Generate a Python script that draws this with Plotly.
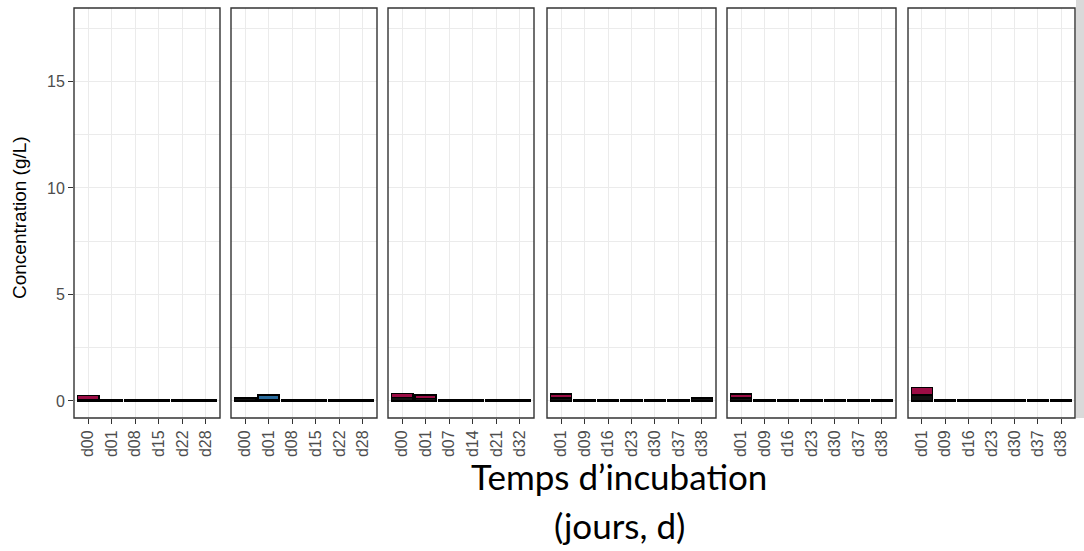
import plotly.graph_objects as go

# ---- data ----
days_p1 = ["d00", "d01", "d08", "d15", "d22", "d28"]
days_p2 = ["d00", "d01", "d08", "d15", "d22", "d28"]
days_p3 = ["d00", "d01", "d07", "d14", "d21", "d32"]
days_p4 = ["d01", "d09", "d16", "d23", "d30", "d37", "d38"]
days_p5 = ["d01", "d09", "d16", "d23", "d30", "d37", "d38"]
days_p6 = ["d01", "d09", "d16", "d23", "d30", "d37", "d38"]

black_p1 = [0.05, 0.05, 0.05, 0.05, 0.05, 0.05]
red_p1 = [0.2, None, None, None, None, None]
blue_p1 = [None] * 6

black_p2 = [0.13, 0.06, 0.05, 0.05, 0.05, 0.05]
red_p2 = [None] * 6
blue_p2 = [None, 0.22, None, None, None, None]

black_p3 = [0.16, 0.11, 0.05, 0.05, 0.05, 0.05]
red_p3 = [0.19, 0.17, None, None, None, None]
blue_p3 = [None] * 6

black_p4 = [0.14, 0.05, 0.05, 0.05, 0.05, 0.05, 0.14]
red_p4 = [0.18, None, None, None, None, None, None]
blue_p4 = [None] * 7

black_p5 = [0.14, 0.05, 0.05, 0.05, 0.05, 0.05, 0.05]
red_p5 = [0.18, None, None, None, None, None, None]
blue_p5 = [None] * 7

black_p6 = [0.27, 0.05, 0.05, 0.05, 0.05, 0.05, 0.05]
red_p6 = [0.36, None, None, None, None, None, None]
blue_p6 = [None] * 7

y_ticks = [0, 5, 10, 15]

panels = [
    (days_p1, black_p1, red_p1, blue_p1),
    (days_p2, black_p2, red_p2, blue_p2),
    (days_p3, black_p3, red_p3, blue_p3),
    (days_p4, black_p4, red_p4, blue_p4),
    (days_p5, black_p5, red_p5, blue_p5),
    (days_p6, black_p6, red_p6, blue_p6),
]

# ---- layout geometry (pixels) ----
W, H = 1084, 551
panel_px = [(74, 220), (231, 377), (388, 534), (547, 716), (727, 896), (908, 1075)]
top_px, bot_px = 8, 418
y_dom = [(H - bot_px) / H, (H - top_px) / H]

RED = "#9B0D45"
BLUE = "#2B6D9E"
BLACK = "#111111"
GRID = "#EBEBEB"
TICKC = "#4D4D4D"

fig = go.Figure()
layout = dict(
    width=W, height=H,
    margin=dict(l=0, r=0, t=0, b=0),
    paper_bgcolor="white", plot_bgcolor="white",
    barmode="stack", bargap=0.1, showlegend=False,
    font=dict(family="Liberation Sans, Arial, sans-serif"),
)

for i, (days, blk, red, blu) in enumerate(panels):
    n = i + 1
    xa = "x" if n == 1 else f"x{n}"
    ya = "y" if n == 1 else f"y{n}"
    for vals, col in ((blk, BLACK), (red, RED), (blu, BLUE)):
        fig.add_trace(go.Bar(
            x=days, y=vals, xaxis=xa, yaxis=ya, width=0.9,
            marker=dict(color=col, line=dict(color="black", width=1.6)),
            hoverinfo="x+y",
        ))
    x0, x1 = panel_px[i]
    layout["xaxis" if n == 1 else f"xaxis{n}"] = dict(
        domain=[x0 / W, x1 / W], anchor=ya, type="category",
        categoryorder="array", categoryarray=days,
        range=[-0.6, len(days) - 0.4],
        showgrid=True, gridcolor=GRID, gridwidth=1.1,
        ticks="outside", ticklen=5, tickcolor="#333333", tickwidth=1.1,
        tickangle=-90, tickfont=dict(size=16, color=TICKC),
        showline=False, zeroline=False, fixedrange=True,
    )
    layout["yaxis" if n == 1 else f"yaxis{n}"] = dict(
        domain=y_dom, anchor=xa, range=[-0.8, 18.45],
        tickmode="array", tickvals=y_ticks, ticktext=[str(v) for v in y_ticks],
        showgrid=True, gridcolor=GRID, gridwidth=1.1,
        minor=dict(tickmode="array", tickvals=[2.5, 7.5, 12.5, 17.5],
                   showgrid=True, gridcolor=GRID, gridwidth=0.6, ticks=""),
        ticks="outside" if n == 1 else "", ticklen=5, tickcolor="#333333", tickwidth=1.1,
        showticklabels=(n == 1), tickfont=dict(size=16, color=TICKC),
        zeroline=False, showline=False, fixedrange=True,
        **({} if n == 1 else {"matches": "y"}),
    )

shapes = []
for (x0, x1) in panel_px:
    shapes.append(dict(type="rect", xref="paper", yref="paper",
                       x0=x0 / W, x1=x1 / W, y0=y_dom[0], y1=y_dom[1],
                       line=dict(color="#333333", width=1.4), fillcolor="rgba(0,0,0,0)",
                       layer="above"))
# grey strip at right edge (cut-off facet strip)
shapes.append(dict(type="rect", xref="paper", yref="paper",
                   x0=1076 / W, x1=1.0, y0=y_dom[0], y1=1.0,
                   line=dict(width=0), fillcolor="#D9D9D9", layer="below"))
layout["shapes"] = shapes

layout["annotations"] = [
    dict(text="Concentration (g/L)", xref="paper", yref="paper",
         x=20 / W, y=(H - 218) / H, textangle=-90, showarrow=False,
         font=dict(size=19, color="black", family="Liberation Sans, Arial, sans-serif"),
         xanchor="center", yanchor="middle"),
    dict(text="Temps d’incubation", xref="paper", yref="paper",
         x=619 / W, y=(H - 476) / H, showarrow=False,
         font=dict(size=35, color="black", family="Lato, sans-serif"),
         xanchor="center", yanchor="middle"),
    dict(text="(jours, d)", xref="paper", yref="paper",
         x=619 / W, y=(H - 525) / H, showarrow=False,
         font=dict(size=35, color="black", family="Lato, sans-serif"),
         xanchor="center", yanchor="middle"),
]

fig.update_layout(**layout)
fig.write_html("out.html", config={"displayModeBar": False},
               post_script="document.body.style.margin='0px';document.body.style.overflow='hidden';")
